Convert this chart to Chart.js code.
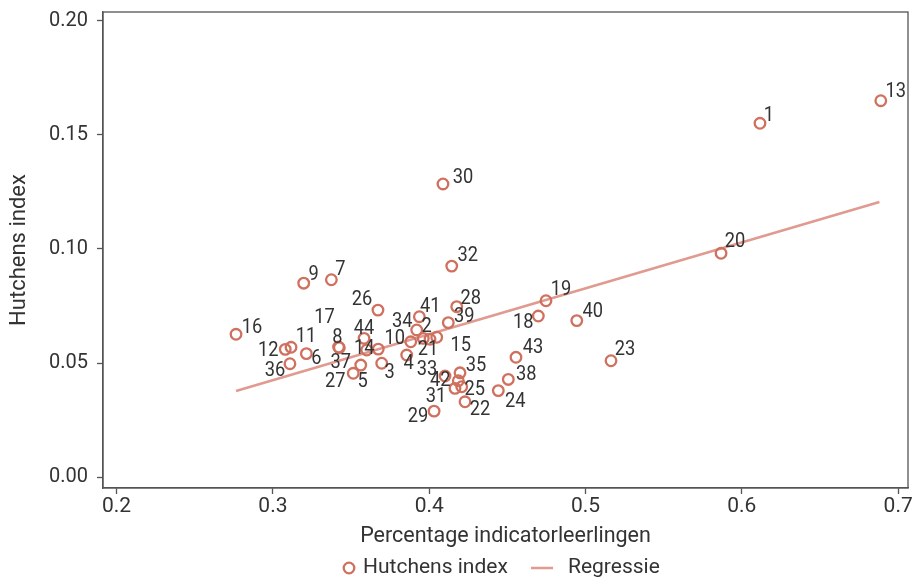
<!DOCTYPE html>
<html>
<head>
<meta charset="utf-8">
<script src="https://cdn.jsdelivr.net/npm/chart.js@4.4.1/dist/chart.umd.min.js"></script>
<style>
html, body { margin: 0; padding: 0; background: #fff; }
#wrap { width: 912px; height: 577px; }
</style>
</head>
<body>
<div id="wrap"><canvas id="scatter" width="912" height="577"></canvas></div>
<script>
// ---- data ----
var schools = ['1','2','3','4','5','6','7','8','9','10','11','12','13','14','15','16','17','18','19','20','21','22',
               '23','24','25','26','27','28','29','30','31','32','33','34','35','36','37','38','39','40','41','42','43','44'];
var pctIndicator = [0.6116, 0.3920, 0.3696, 0.3856, 0.3562, 0.3214, 0.3374, 0.3425, 0.3197, 0.3882, 0.3116,
                    0.3079, 0.6889, 0.3674, 0.4048, 0.2764, 0.3420, 0.4698, 0.4747, 0.5867, 0.4005, 0.4229,
                    0.5163, 0.4442, 0.4208, 0.3672, 0.3514, 0.4176, 0.4031, 0.4088, 0.4165, 0.4144, 0.4101,
                    0.3962, 0.4197, 0.3109, 0.3600, 0.4506, 0.4122, 0.4944, 0.3937, 0.4186, 0.4555, 0.3583];
var hutchens = [0.1551, 0.0645, 0.0499, 0.0535, 0.0491, 0.0541, 0.0865, 0.0567, 0.0850, 0.0593, 0.0569,
                0.0560, 0.1650, 0.0561, 0.0613, 0.0626, 0.0570, 0.0706, 0.0773, 0.0981, 0.0604, 0.0330,
                0.0510, 0.0379, 0.0396, 0.0732, 0.0455, 0.0747, 0.0289, 0.1285, 0.0389, 0.0925, 0.0443,
                0.0608, 0.0457, 0.0497, 0.0557, 0.0428, 0.0677, 0.0686, 0.0703, 0.0422, 0.0525, 0.0608];
var regX = [0.2764, 0.6880];
var regY = [0.0377, 0.1206];
var xTicks = [0.2, 0.3, 0.4, 0.5, 0.6, 0.7];
var yTicks = [0, 0.05, 0.10, 0.15, 0.20];

// ---- styling ----
var FONT = 'Roboto, "DejaVu Sans", sans-serif';
var TXT = '#333333';
var MARK = '#d0705f';
var REG = '#e09a90';
// where each school number sits relative to its marker (px)
var labelShift = [[9,-8],[10,-3],[8,10],[2,9],[2,17],[10,5],[9,-10],[-2,-10],[10,-8],[-16,-3],[15,-11],
                  [-17,1],[15,-9],[-14,0],[24,9],[16,-7],[-14,-29],[-15,7],[15,-11],[14,-12],[-2,10],[15,8],
                  [14,-11],[17,11],[13,3],[-16,-10],[-18,8],[14,-8],[-16,6],[20,-6],[-19,8],[16,-10],[-18,-6],
                  [-21,-17],[16,-7],[-15,7],[-26,13],[18,-5],[16,-6],[16,-9],[11,-10],[-18,0],[17,-10],[0,-10]];

var pts = pctIndicator.map(function (v, i) { return {x: v, y: hutchens[i]}; });
var regPts = regX.map(function (v, i) { return {x: v, y: regY[i]}; });

/* keep the plot region where the original has it (x tick labels would pull it in) */
var pinArea = {
	id: 'pinArea',
	afterLayout: function (chart) {
		var a = chart.chartArea, x = chart.scales.x, r = 908;
		a.right = r;
		a.width = r - a.left;
		x.right = r;
		x.width = r - x.left;
		x.configure();
	}
};

/* frame round the plot region */
var framePlugin = {
	id: 'frame',
	beforeDatasetsDraw: function (chart) {
		var a = chart.chartArea, c = chart.ctx;
		c.save();
		c.strokeStyle = '#555';
		c.lineWidth = 1.3;
		c.strokeRect(a.left, a.top, a.right - a.left, a.bottom - a.top);
		c.restore();
	}
};

/* school numbers next to the markers (narrowed, like the original's condensed face) */
var labelPlugin = {
	id: 'schoolLabels',
	afterDatasetsDraw: function (chart) {
		var c = chart.ctx;
		var meta = chart.getDatasetMeta(0);
		c.save();
		c.font = '21px ' + FONT;
		c.fillStyle = TXT;
		c.textAlign = 'center';
		c.textBaseline = 'middle';
		meta.data.forEach(function (el, i) {
			var s = labelShift[i];
			c.save();
			c.translate(el.x + s[0], el.y + s[1]);
			c.scale(0.87, 1);
			c.fillText(schools[i], 0, 0);
			c.restore();
		});
		c.restore();
	}
};

/* legend under the axis title */
var legendPlugin = {
	id: 'bottomLegend',
	afterDraw: function (chart) {
		var c = chart.ctx, y = 568;
		c.save();
		c.font = '21px ' + FONT;
		c.fillStyle = TXT;
		c.textBaseline = 'middle';
		c.strokeStyle = MARK;
		c.lineWidth = 2.3;
		c.beginPath();
		c.arc(349, y, 5.3, 0, Math.PI * 2);
		c.stroke();
		c.fillText('Hutchens index', 363, y);
		c.strokeStyle = REG;
		c.lineWidth = 2.5;
		c.beginPath();
		c.moveTo(531, y);
		c.lineTo(553, y);
		c.stroke();
		c.fillText('Regressie', 568, y);
		c.restore();
	}
};

var ctx = document.getElementById('scatter');
var scatter = new Chart(ctx, {
	type: 'scatter',
	data: {
		datasets: [{
			label: 'Hutchens index',
			data: pts,
			pointStyle: 'circle',
			pointRadius: 5.3,
			pointHoverRadius: 5.3,
			pointBorderWidth: 2.3,
			borderColor: MARK,
			backgroundColor: 'rgba(0,0,0,0)',
			order: 1
		}, {
			type: 'line',
			label: 'Regressie',
			data: regPts,
			borderColor: REG,
			borderWidth: 2.5,
			pointRadius: 0,
			fill: false,
			order: 2
		}]
	},
	options: {
		responsive: false,
		animation: false,
		devicePixelRatio: 1,
		layout: { padding: { left: 0, right: 4, top: 12, bottom: 26 } },
		plugins: {
			legend: { display: false },
			tooltip: { enabled: false }
		},
		scales: {
			x: {
				type: 'linear',
				min: 0.1913,
				max: 0.7063,
				afterBuildTicks: function (s) { s.ticks = xTicks.map(function (v) { return {value: v}; }); },
				afterFit: function (s) { s.height = 63; },
				ticks: {
					color: TXT,
					font: { family: FONT, size: 21 },
					padding: 0,
					maxRotation: 0,
					callback: function (v) { return v.toFixed(1); }
				},
				grid: { drawOnChartArea: false, tickLength: 6, color: '#555', tickWidth: 1.3 },
				border: { display: true, color: '#555', width: 1.3 },
				title: {
					display: true,
					text: 'Percentage indicatorleerlingen',
					color: TXT,
					font: { family: FONT, size: 21.5 },
					padding: { top: 0, bottom: 1 }
				}
			},
			y: {
				type: 'linear',
				min: -0.0048,
				max: 0.2039,
				afterBuildTicks: function (s) { s.ticks = yTicks.map(function (v) { return {value: v}; }); },
				afterFit: function (s) { s.width = 103; s.paddingTop = 0; s.paddingBottom = 0; },
				ticks: {
					color: TXT,
					font: { family: FONT, size: 20 },
					padding: 9,
					callback: function (v) { return v.toFixed(2); }
				},
				grid: { drawOnChartArea: false, tickLength: 6, color: '#555', tickWidth: 1.3 },
				border: { display: true, color: '#555', width: 1.3 },
				title: {
					display: true,
					text: 'Hutchens index',
					color: TXT,
					font: { family: FONT, size: 22 },
					padding: { top: 6, bottom: 0 }
				}
			}
		}
	},
	plugins: [pinArea, framePlugin, labelPlugin, legendPlugin]
});
</script>
</body>
</html>
